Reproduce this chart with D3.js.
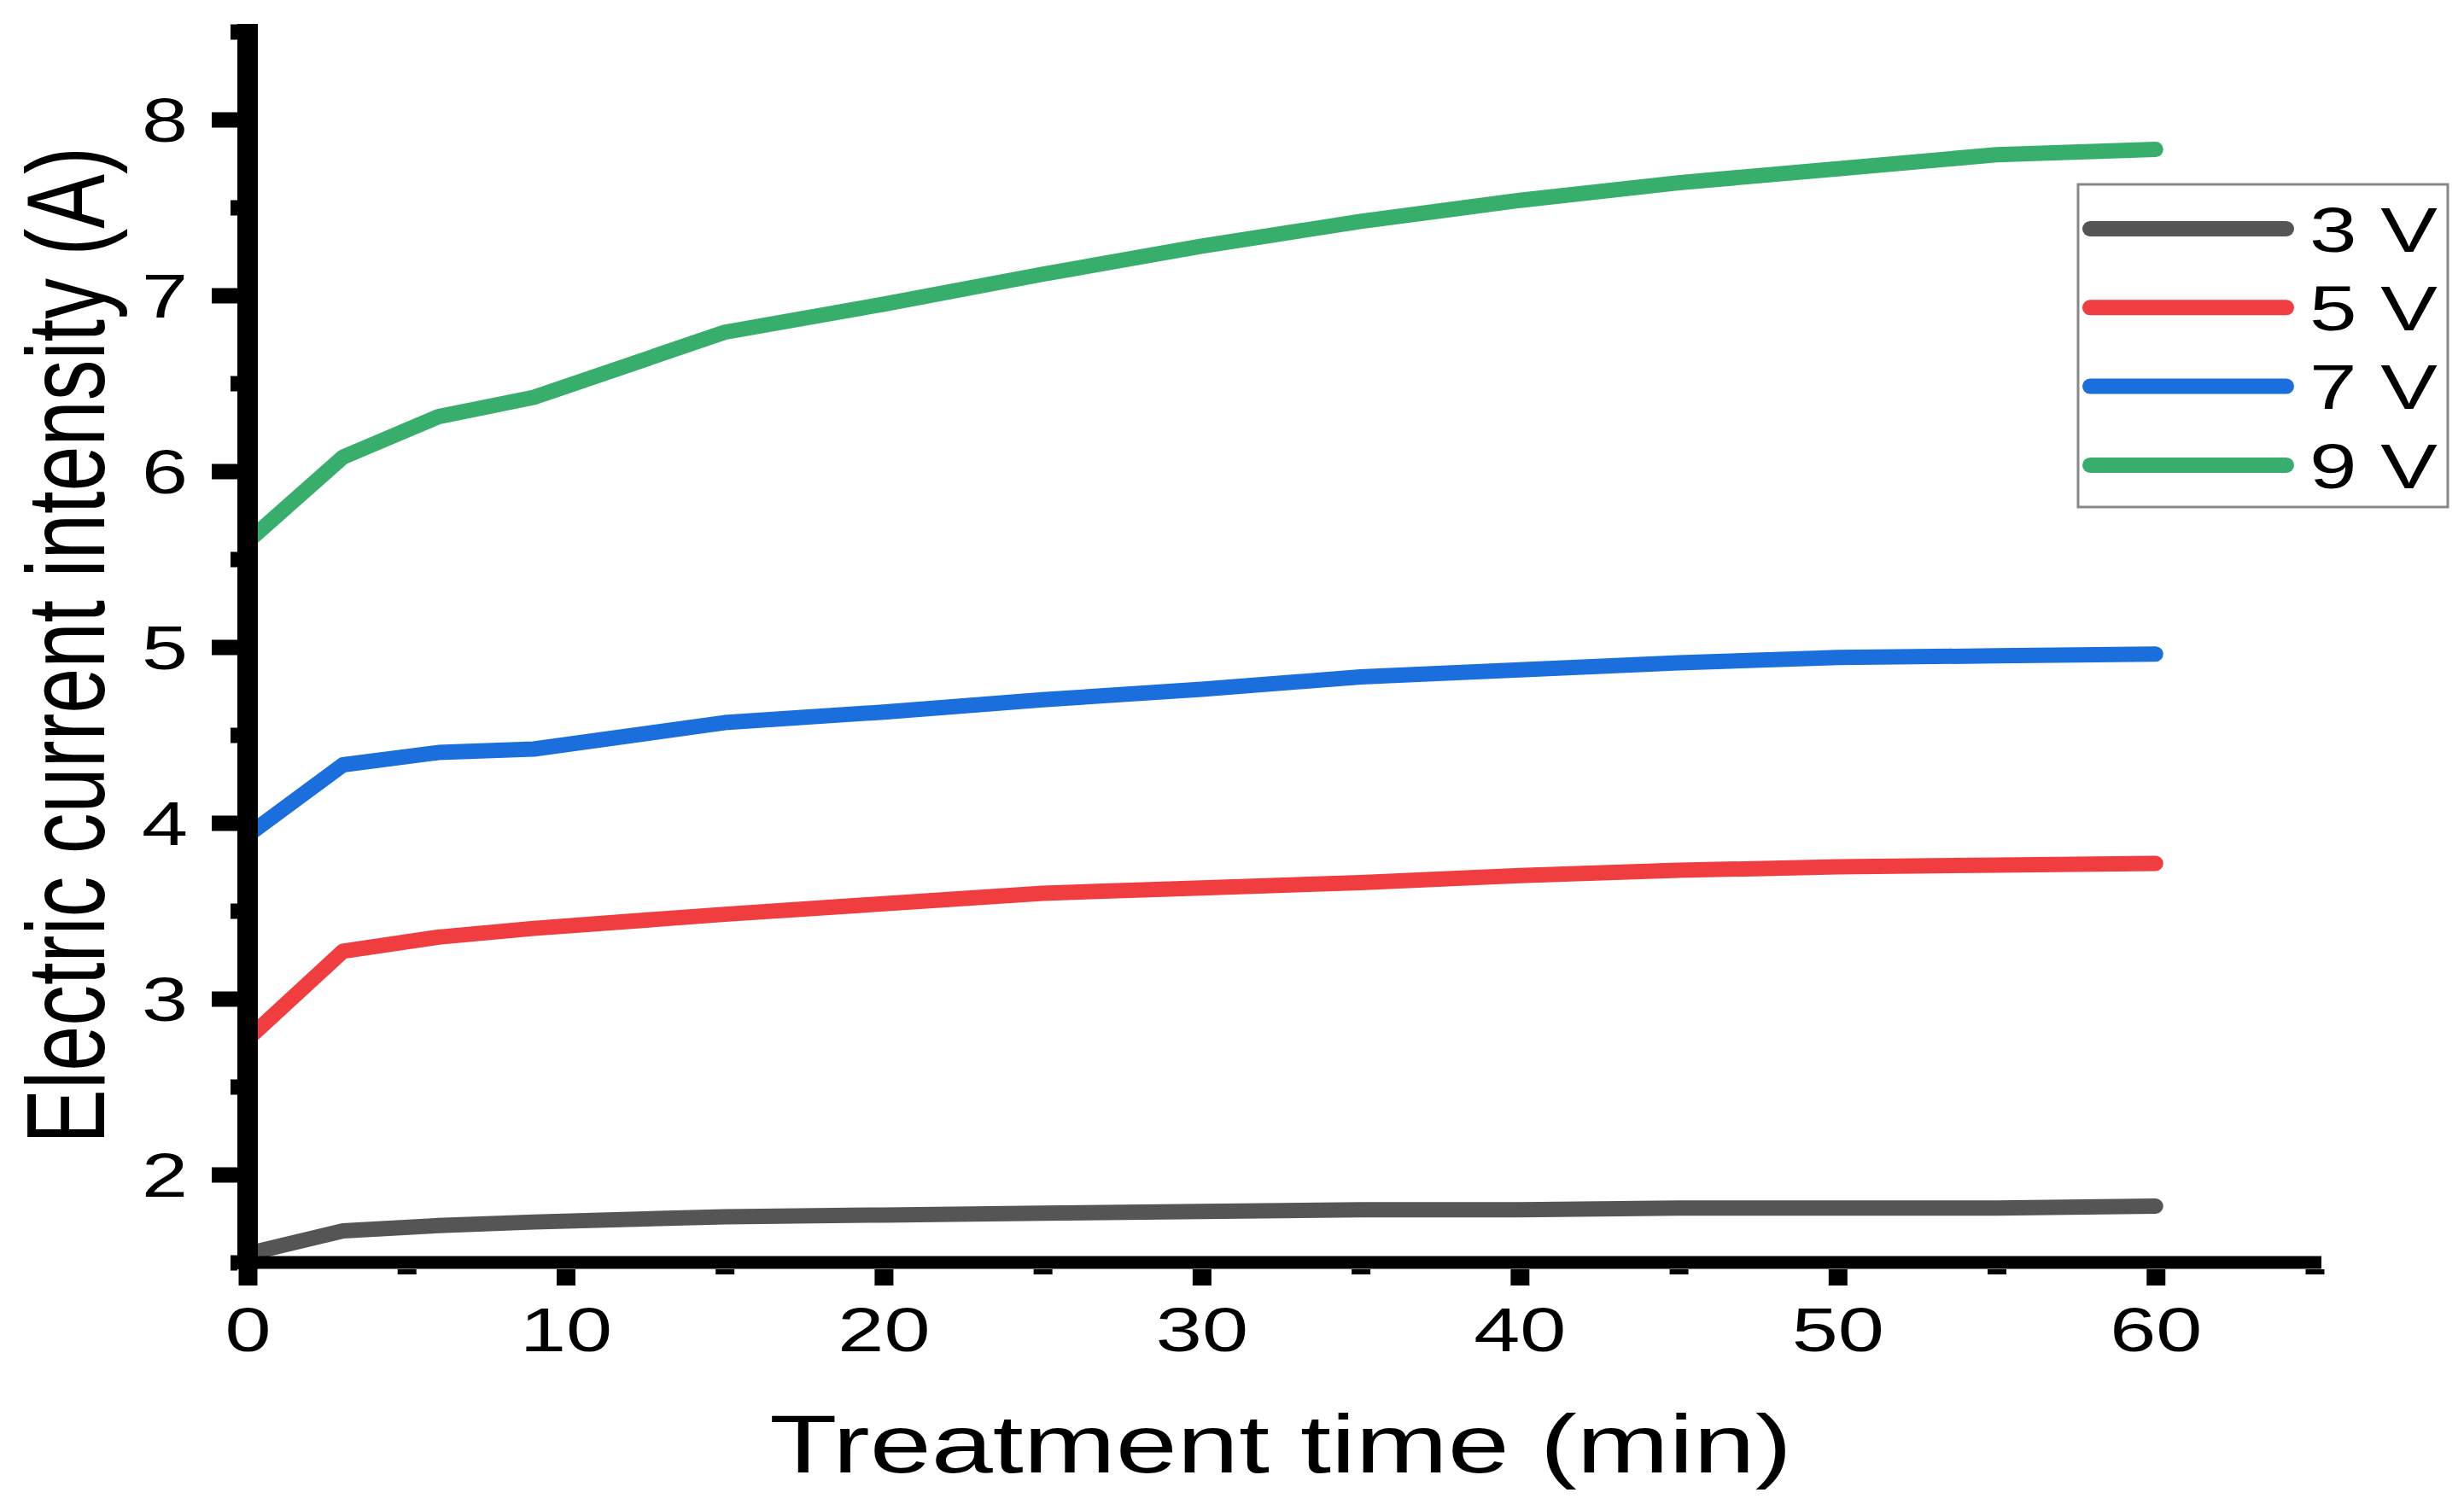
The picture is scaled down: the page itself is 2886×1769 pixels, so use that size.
<!DOCTYPE html>
<html>
<head>
<meta charset="utf-8">
<script src="https://cdn.jsdelivr.net/npm/d3@7"></script>
<style>
  html, body { margin: 0; padding: 0; background: #fff; }
  svg { display: block; }
  text { font-family: "Liberation Sans", Arial, sans-serif; fill: #000; }
</style>
</head>
<body>
<svg id="chart"></svg>
<script>
// Data
const times = [0, 3, 6, 9, 15, 20, 25, 30, 35, 40, 45, 50, 55, 60];
const current3V = [1.55, 1.68, 1.71, 1.73, 1.76, 1.77, 1.78, 1.79, 1.80, 1.80, 1.81, 1.81, 1.81, 1.82];
const current5V = [2.77, 3.27, 3.35, 3.40, 3.48, 3.54, 3.60, 3.63, 3.66, 3.70, 3.73, 3.75, 3.76, 3.77];
const current7V = [3.93, 4.33, 4.40, 4.42, 4.57, 4.63, 4.70, 4.76, 4.83, 4.87, 4.91, 4.94, 4.95, 4.96];
const current9V = [5.60, 6.08, 6.31, 6.42, 6.79, 6.95, 7.12, 7.28, 7.42, 7.54, 7.64, 7.72, 7.80, 7.83];
const seriesNames = ["3 V", "5 V", "7 V", "9 V"];
const xMajorTicks = [0, 10, 20, 30, 40, 50, 60];
const xMinorTicks = [5, 15, 25, 35, 45, 55, 65];
const yMajorTicks = [2, 3, 4, 5, 6, 7, 8];
const yMinorTicks = [1.5, 2.5, 3.5, 4.5, 5.5, 6.5, 7.5, 8.5];

// Layout
const W = 2886, H = 1769;
const colors = ["#555555", "#f03e40", "#1b6fdc", "#37ae6b"];
const lineWidth = 18;
const stretch = 1.35; // text in the figure is widened horizontally

const svg = d3.select("#chart").attr("width", W).attr("height", H);

const x = d3.scaleLinear().domain([0, 65]).range([290, 2711]);
const y = d3.scaleLinear().domain([1.5, 8.5]).range([1479, 37]);

const allValues = [current3V, current5V, current7V, current9V];
const series = seriesNames.map((name, i) => ({
  name,
  color: colors[i],
  values: times.map((t, j) => ({ t, v: allValues[i][j] }))
}));

// Lines
const line = d3.line().x(d => x(d.t)).y(d => y(d.v));
svg.append("g").selectAll("path")
  .data(series)
  .enter().append("path")
    .attr("d", d => line(d.values))
    .attr("fill", "none")
    .attr("stroke", d => d.color)
    .attr("stroke-width", lineWidth)
    .attr("stroke-linecap", "round")
    .attr("stroke-linejoin", "round");

// Y axis
const yAxisX = x(0) - 12;
const yMinor = svg.append("g").attr("transform", `translate(${yAxisX},0)`)
  .call(d3.axisLeft(y).tickValues(yMinorTicks).tickSize(8).tickFormat(""));
const yMajor = svg.append("g").attr("transform", `translate(${yAxisX},0)`)
  .call(d3.axisLeft(y).tickValues(yMajorTicks).tickSize(30).tickFormat(d3.format("d")));
[yMinor, yMajor].forEach(g => {
  g.select(".domain").remove();
  g.selectAll(".tick line").attr("stroke", "#000").attr("stroke-width", 18);
});
yMajor.selectAll(".tick text")
  .attr("x", 0).attr("dy", "0.36em")
  .attr("transform", `translate(${220 - yAxisX},0) scale(${stretch},1)`)
  .attr("font-size", 72)
  .attr("text-anchor", "end");

// X axis
const xAxisY = y(1.5) + 8;
const xMinor = svg.append("g").attr("transform", `translate(0,${xAxisY})`)
  .call(d3.axisBottom(x).tickValues(xMinorTicks).tickSize(6).tickFormat(""));
const xMajor = svg.append("g").attr("transform", `translate(0,${xAxisY})`)
  .call(d3.axisBottom(x).tickValues(xMajorTicks).tickSize(19).tickFormat(d3.format("d")));
[xMinor, xMajor].forEach(g => {
  g.select(".domain").remove();
  g.selectAll(".tick line").attr("stroke", "#000").attr("stroke-width", 22);
});
xMajor.selectAll(".tick text")
  .attr("y", 0).attr("dy", null)
  .attr("transform", `translate(0,${1583 - xAxisY}) scale(${stretch},1)`)
  .attr("font-size", 72)
  .attr("text-anchor", "middle");

// Axis lines
svg.append("line")
  .attr("x1", x(0)).attr("x2", x(0))
  .attr("y1", y(8.5) - 9).attr("y2", xAxisY)
  .attr("stroke", "#000").attr("stroke-width", 24);
svg.append("line")
  .attr("x1", x(0) - 18).attr("x2", x(65) + 8)
  .attr("y1", y(1.5)).attr("y2", y(1.5))
  .attr("stroke", "#000").attr("stroke-width", 15);

// Axis titles
svg.append("text")
  .attr("transform", `translate(1500,1725) scale(${stretch},1)`)
  .attr("text-anchor", "middle")
  .attr("font-size", 96)
  .text("Treatment time (min)");

svg.append("text")
  .attr("transform", `translate(122,756) scale(${stretch},1) rotate(-90)`)
  .attr("text-anchor", "middle")
  .attr("font-size", 95.5)
  .text("Electric current intensity (A)");

// Legend
const legend = svg.append("g");
legend.append("rect")
  .attr("x", 2434).attr("y", 216)
  .attr("width", 433).attr("height", 378)
  .attr("fill", "#fff")
  .attr("stroke", "#888").attr("stroke-width", 3);

const items = legend.selectAll("g.item")
  .data(series)
  .enter().append("g")
    .attr("class", "item")
    .attr("transform", (d, i) => `translate(0,${268 + i * 92.3})`);
items.append("line")
  .attr("x1", 2448).attr("x2", 2678)
  .attr("stroke", d => d.color)
  .attr("stroke-width", lineWidth)
  .attr("stroke-linecap", "round");
items.append("text")
  .attr("transform", `translate(2705,0) scale(${stretch},1)`)
  .attr("dy", "0.36em")
  .attr("font-size", 74)
  .text(d => d.name);
</script>
</body>
</html>
